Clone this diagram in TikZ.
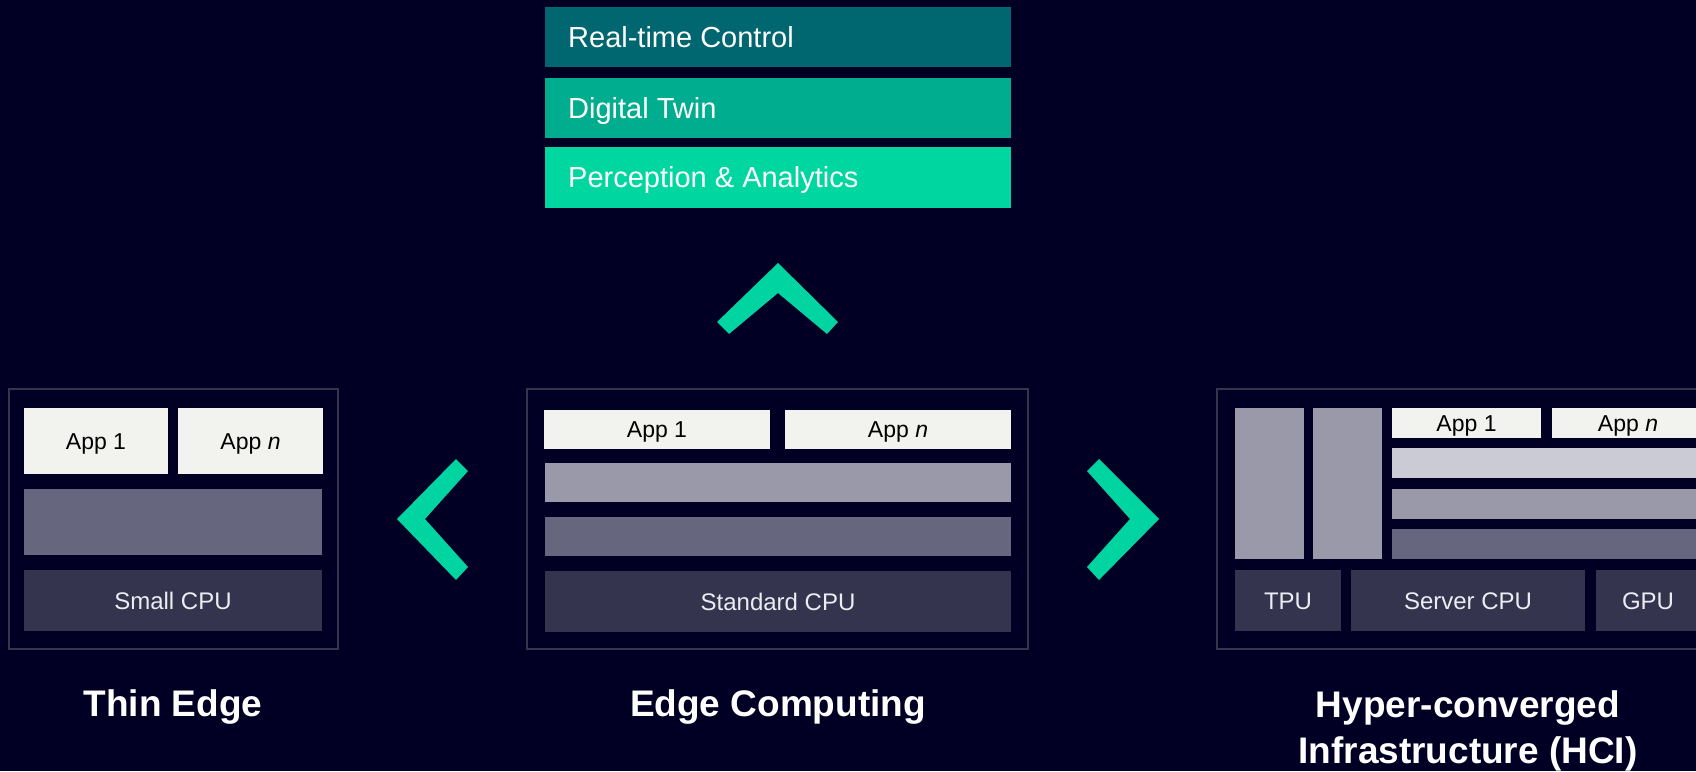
\documentclass[tikz,border=0pt]{standalone}
\usepackage{fontspec}
\setmainfont{Liberation Sans}
\definecolor{bg}{RGB}{1,0,36}
\definecolor{rtc}{RGB}{0,102,112}
\definecolor{dtw}{RGB}{0,173,142}
\definecolor{pca}{RGB}{0,214,160}
\definecolor{chev}{RGB}{0,212,160}
\definecolor{appw}{RGB}{242,243,238}
\definecolor{gl}{RGB}{203,203,214}
\definecolor{gm}{RGB}{154,153,170}
\definecolor{gd}{RGB}{102,102,126}
\definecolor{cpu}{RGB}{52,52,79}
\definecolor{brd}{RGB}{52,52,76}
\definecolor{cputxt}{RGB}{236,236,242}
\newcommand\mybox[7]{%
  \pgfmathsetmacro\bw{#4-#2}\pgfmathsetmacro\bh{#5-#3}%
  \node[#6, minimum width=\bw pt, minimum height=\bh pt, anchor=north west] (#1) at (#2,#3) {#7};}
\tikzset{
  blk/.style={inner sep=0pt, outer sep=0pt, text depth=0pt},
  appbox/.style={blk, fill=appw, text=black, text height=16.5pt, font=\fontsize{23}{27}\selectfont},
  cpubox/.style={blk, fill=cpu, text=cputxt, text height=17.2pt, font=\fontsize{24}{28}\selectfont},
  lightbar/.style={blk, fill=gl},
  graybar/.style={blk, fill=gm},
  midbar/.style={blk, fill=gd},
  frame/.style={blk, draw=brd, line width=1.6pt},
  topbox/.style={blk},
  toptxt/.style={inner sep=0pt, anchor=west, text=white, text height=20.8pt, text depth=0pt, font=\fontsize{29}{34}\selectfont},
  title/.style={inner sep=0pt, text=white, align=center, font=\fontsize{37}{46}\selectfont\bfseries},
  chevron/.style={fill=chev}
}
\begin{document}
\begin{tikzpicture}[x=1pt,y=-1pt]
\clip (0,0) rectangle (1696,771);
\fill[bg] (0,0) rectangle (1696,771);
% top stack
\mybox{rtc}{545}{7}{1011}{67}{topbox, fill=rtc}{}
\mybox{dtw}{545}{78}{1011}{138}{topbox, fill=dtw}{}
\mybox{pca}{545}{147}{1011}{208}{topbox, fill=pca}{}
\node[toptxt] (rtct) at ([xshift=23pt]rtc.west) {Real-time Control};
\node[toptxt] (dtwt) at ([xshift=23pt]dtw.west) {Digital Twin};
\node[toptxt] (pcat) at ([xshift=23pt]pca.west) {Perception \& Analytics};
% chevrons
\fill[chevron] (778,263) -- (717,322) -- (729,334) -- (778,293) -- (827,334) -- (838,322) -- cycle;
\fill[chevron] (468,471) -- (456,459) -- (397,519) -- (456,580) -- (468,567) -- (425,519) -- cycle;
\fill[chevron] (1099,459) -- (1087,471) -- (1130,519) -- (1087,567) -- (1099,580) -- (1159,519) -- cycle;
% thin edge
\mybox{tf}{9}{389}{338}{649}{frame}{}
\mybox{ta1}{24}{408}{168}{474}{appbox}{App 1}
\mybox{tan}{178}{408}{323}{474}{appbox}{App \textit{n}}
\mybox{tb}{24}{489}{322}{555}{midbar}{}
\mybox{tc}{24}{570}{322}{631}{cpubox}{Small CPU}
% edge computing
\mybox{ef}{527}{389}{1028}{649}{frame}{}
\mybox{ea1}{544}{410}{770}{449}{appbox}{App 1}
\mybox{ean}{785}{410}{1011}{449}{appbox}{App \textit{n}}
\mybox{eb1}{545}{463}{1011}{502}{graybar}{}
\mybox{eb2}{545}{517}{1011}{556}{midbar}{}
\mybox{ec}{545}{571}{1011}{632}{cpubox}{Standard CPU}
% HCI
\mybox{hf}{1217}{389}{1722}{649}{frame}{}
\mybox{ht1}{1235}{408}{1304}{559}{graybar}{}
\mybox{ht2}{1313}{408}{1382}{559}{graybar}{}
\mybox{ha1}{1392}{408}{1541}{438}{appbox}{App 1}
\mybox{han}{1552}{408}{1704}{438}{appbox}{App \textit{n}}
\mybox{hb1}{1392}{448}{1704}{478}{lightbar}{}
\mybox{hb2}{1392}{489}{1704}{519}{graybar}{}
\mybox{hb3}{1392}{529}{1704}{559}{midbar}{}
\mybox{htpu}{1235}{570}{1341}{631}{cpubox}{TPU}
\mybox{hcpu}{1351}{570}{1585}{631}{cpubox}{Server CPU}
\mybox{hgpu}{1596}{570}{1700}{631}{cpubox}{GPU}
% titles
\node[title, anchor=base] (t1) at (173,716) {Thin Edge};
\node[title, anchor=base] (t2) at (778,716) {Edge Computing};
\node[title, anchor=north] (t3) at (1468,690) {Hyper-converged\\Infrastructure (HCI)};
\end{tikzpicture}
\end{document}
